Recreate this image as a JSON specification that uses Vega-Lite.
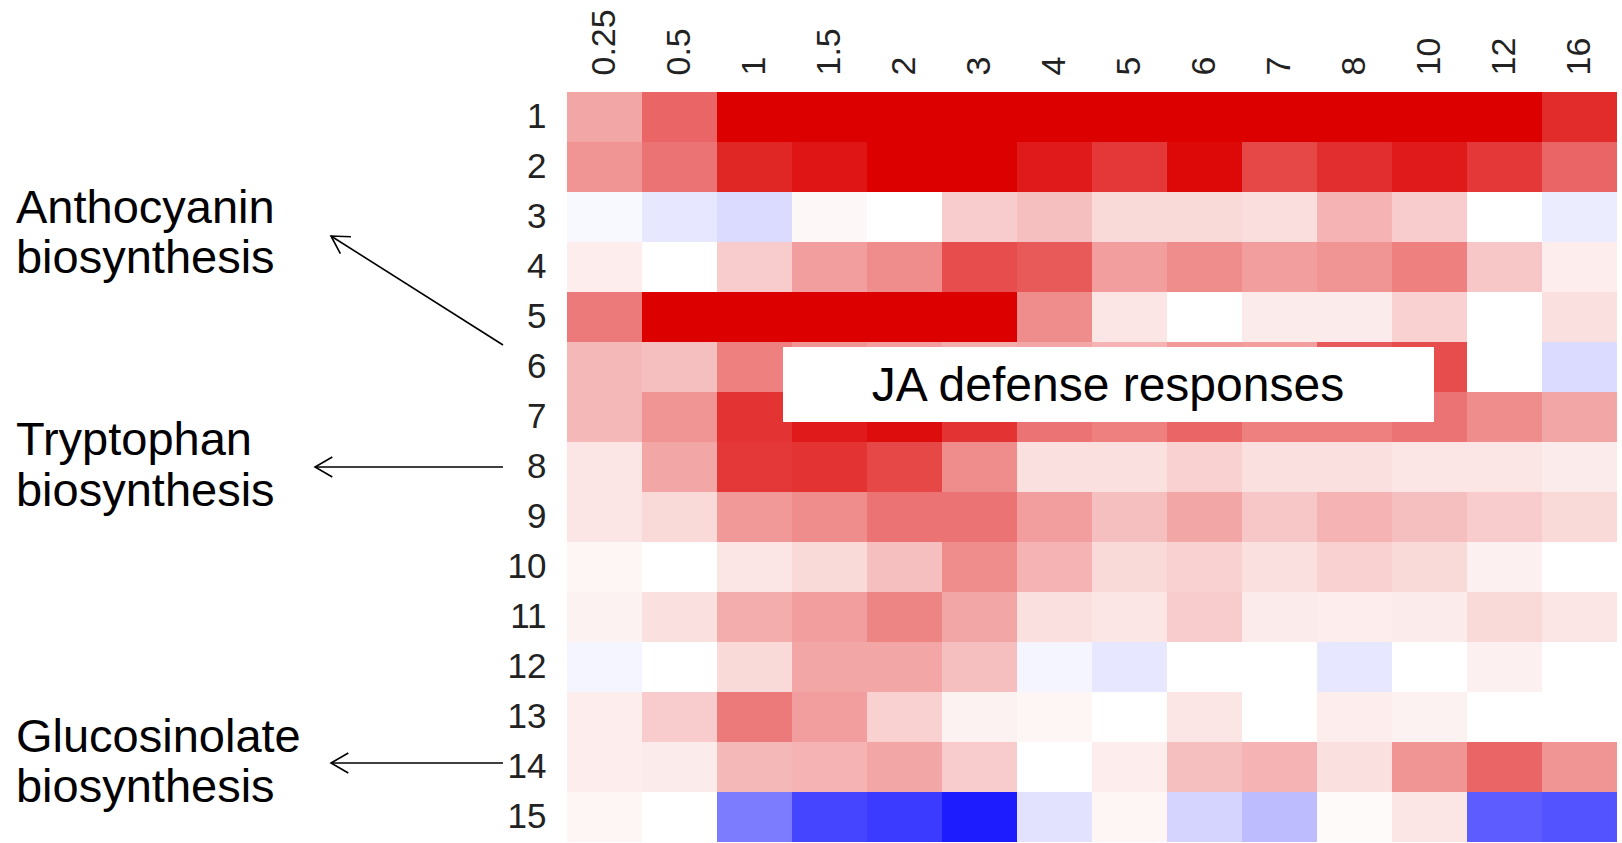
{
  "$schema": "https://vega.github.io/schema/vega-lite/v6.json",
  "width": 1050,
  "height": 750,
  "padding": {"left": 567, "top": 92, "right": 5, "bottom": 1},
  "autosize": {"type": "none"},
  "background": "white",
  "config": {"view": {"stroke": null}},
  "datasets": {
    "cells": [
      {"row":1,"time":"0.25","value":0.35},{"row":1,"time":"0.5","value":0.6},{"row":1,"time":"1","value":1},{"row":1,"time":"1.5","value":1},{"row":1,"time":"2","value":1},{"row":1,"time":"3","value":1},{"row":1,"time":"4","value":1},{"row":1,"time":"5","value":1},{"row":1,"time":"6","value":1},{"row":1,"time":"7","value":1},{"row":1,"time":"8","value":1},{"row":1,"time":"10","value":1},{"row":1,"time":"12","value":1},{"row":1,"time":"16","value":0.83},
      {"row":2,"time":"0.25","value":0.42},{"row":2,"time":"0.5","value":0.55},{"row":2,"time":"1","value":0.85},{"row":2,"time":"1.5","value":0.92},{"row":2,"time":"2","value":1},{"row":2,"time":"3","value":1},{"row":2,"time":"4","value":0.9},{"row":2,"time":"5","value":0.78},{"row":2,"time":"6","value":0.97},{"row":2,"time":"7","value":0.72},{"row":2,"time":"8","value":0.82},{"row":2,"time":"10","value":0.9},{"row":2,"time":"12","value":0.78},{"row":2,"time":"16","value":0.6},
      {"row":3,"time":"0.25","value":-0.03},{"row":3,"time":"0.5","value":-0.1},{"row":3,"time":"1","value":-0.15},{"row":3,"time":"1.5","value":0.03},{"row":3,"time":"2","value":0},{"row":3,"time":"3","value":0.2},{"row":3,"time":"4","value":0.25},{"row":3,"time":"5","value":0.15},{"row":3,"time":"6","value":0.15},{"row":3,"time":"7","value":0.13},{"row":3,"time":"8","value":0.3},{"row":3,"time":"10","value":0.2},{"row":3,"time":"12","value":0},{"row":3,"time":"16","value":-0.08},
      {"row":4,"time":"0.25","value":0.07},{"row":4,"time":"0.5","value":0},{"row":4,"time":"1","value":0.2},{"row":4,"time":"1.5","value":0.38},{"row":4,"time":"2","value":0.45},{"row":4,"time":"3","value":0.7},{"row":4,"time":"4","value":0.65},{"row":4,"time":"5","value":0.38},{"row":4,"time":"6","value":0.45},{"row":4,"time":"7","value":0.38},{"row":4,"time":"8","value":0.42},{"row":4,"time":"10","value":0.5},{"row":4,"time":"12","value":0.22},{"row":4,"time":"16","value":0.07},
      {"row":5,"time":"0.25","value":0.52},{"row":5,"time":"0.5","value":1},{"row":5,"time":"1","value":1},{"row":5,"time":"1.5","value":1},{"row":5,"time":"2","value":1},{"row":5,"time":"3","value":1},{"row":5,"time":"4","value":0.45},{"row":5,"time":"5","value":0.1},{"row":5,"time":"6","value":0},{"row":5,"time":"7","value":0.08},{"row":5,"time":"8","value":0.08},{"row":5,"time":"10","value":0.18},{"row":5,"time":"12","value":0},{"row":5,"time":"16","value":0.12},
      {"row":6,"time":"0.25","value":0.28},{"row":6,"time":"0.5","value":0.25},{"row":6,"time":"1","value":0.5},{"row":6,"time":"1.5","value":0.42},{"row":6,"time":"2","value":0.38},{"row":6,"time":"3","value":0.32},{"row":6,"time":"4","value":0.35},{"row":6,"time":"5","value":0.3},{"row":6,"time":"6","value":0.4},{"row":6,"time":"7","value":0.38},{"row":6,"time":"8","value":0.65},{"row":6,"time":"10","value":0.7},{"row":6,"time":"12","value":0},{"row":6,"time":"16","value":-0.15},
      {"row":7,"time":"0.25","value":0.28},{"row":7,"time":"0.5","value":0.42},{"row":7,"time":"1","value":0.8},{"row":7,"time":"1.5","value":0.9},{"row":7,"time":"2","value":0.95},{"row":7,"time":"3","value":0.8},{"row":7,"time":"4","value":0.55},{"row":7,"time":"5","value":0.5},{"row":7,"time":"6","value":0.6},{"row":7,"time":"7","value":0.5},{"row":7,"time":"8","value":0.5},{"row":7,"time":"10","value":0.55},{"row":7,"time":"12","value":0.45},{"row":7,"time":"16","value":0.35},
      {"row":8,"time":"0.25","value":0.1},{"row":8,"time":"0.5","value":0.35},{"row":8,"time":"1","value":0.78},{"row":8,"time":"1.5","value":0.8},{"row":8,"time":"2","value":0.72},{"row":8,"time":"3","value":0.45},{"row":8,"time":"4","value":0.12},{"row":8,"time":"5","value":0.12},{"row":8,"time":"6","value":0.18},{"row":8,"time":"7","value":0.12},{"row":8,"time":"8","value":0.12},{"row":8,"time":"10","value":0.1},{"row":8,"time":"12","value":0.1},{"row":8,"time":"16","value":0.08},
      {"row":9,"time":"0.25","value":0.1},{"row":9,"time":"0.5","value":0.15},{"row":9,"time":"1","value":0.4},{"row":9,"time":"1.5","value":0.45},{"row":9,"time":"2","value":0.55},{"row":9,"time":"3","value":0.55},{"row":9,"time":"4","value":0.38},{"row":9,"time":"5","value":0.25},{"row":9,"time":"6","value":0.35},{"row":9,"time":"7","value":0.22},{"row":9,"time":"8","value":0.3},{"row":9,"time":"10","value":0.25},{"row":9,"time":"12","value":0.2},{"row":9,"time":"16","value":0.15},
      {"row":10,"time":"0.25","value":0.04},{"row":10,"time":"0.5","value":0},{"row":10,"time":"1","value":0.1},{"row":10,"time":"1.5","value":0.15},{"row":10,"time":"2","value":0.25},{"row":10,"time":"3","value":0.45},{"row":10,"time":"4","value":0.3},{"row":10,"time":"5","value":0.15},{"row":10,"time":"6","value":0.18},{"row":10,"time":"7","value":0.12},{"row":10,"time":"8","value":0.18},{"row":10,"time":"10","value":0.15},{"row":10,"time":"12","value":0.06},{"row":10,"time":"16","value":0},
      {"row":11,"time":"0.25","value":0.05},{"row":11,"time":"0.5","value":0.12},{"row":11,"time":"1","value":0.32},{"row":11,"time":"1.5","value":0.38},{"row":11,"time":"2","value":0.48},{"row":11,"time":"3","value":0.35},{"row":11,"time":"4","value":0.12},{"row":11,"time":"5","value":0.1},{"row":11,"time":"6","value":0.2},{"row":11,"time":"7","value":0.08},{"row":11,"time":"8","value":0.07},{"row":11,"time":"10","value":0.08},{"row":11,"time":"12","value":0.15},{"row":11,"time":"16","value":0.1},
      {"row":12,"time":"0.25","value":-0.04},{"row":12,"time":"0.5","value":0},{"row":12,"time":"1","value":0.15},{"row":12,"time":"1.5","value":0.35},{"row":12,"time":"2","value":0.35},{"row":12,"time":"3","value":0.25},{"row":12,"time":"4","value":-0.04},{"row":12,"time":"5","value":-0.1},{"row":12,"time":"6","value":0},{"row":12,"time":"7","value":0},{"row":12,"time":"8","value":-0.1},{"row":12,"time":"10","value":0},{"row":12,"time":"12","value":0.06},{"row":12,"time":"16","value":0},
      {"row":13,"time":"0.25","value":0.07},{"row":13,"time":"0.5","value":0.2},{"row":13,"time":"1","value":0.52},{"row":13,"time":"1.5","value":0.38},{"row":13,"time":"2","value":0.18},{"row":13,"time":"3","value":0.05},{"row":13,"time":"4","value":0.04},{"row":13,"time":"5","value":0},{"row":13,"time":"6","value":0.1},{"row":13,"time":"7","value":0},{"row":13,"time":"8","value":0.07},{"row":13,"time":"10","value":0.05},{"row":13,"time":"12","value":0},{"row":13,"time":"16","value":0},
      {"row":14,"time":"0.25","value":0.07},{"row":14,"time":"0.5","value":0.08},{"row":14,"time":"1","value":0.28},{"row":14,"time":"1.5","value":0.3},{"row":14,"time":"2","value":0.35},{"row":14,"time":"3","value":0.2},{"row":14,"time":"4","value":0},{"row":14,"time":"5","value":0.07},{"row":14,"time":"6","value":0.25},{"row":14,"time":"7","value":0.3},{"row":14,"time":"8","value":0.12},{"row":14,"time":"10","value":0.42},{"row":14,"time":"12","value":0.6},{"row":14,"time":"16","value":0.42},
      {"row":15,"time":"0.25","value":0.04},{"row":15,"time":"0.5","value":0},{"row":15,"time":"1","value":-0.55},{"row":15,"time":"1.5","value":-0.78},{"row":15,"time":"2","value":-0.82},{"row":15,"time":"3","value":-0.95},{"row":15,"time":"4","value":-0.12},{"row":15,"time":"5","value":0.04},{"row":15,"time":"6","value":-0.18},{"row":15,"time":"7","value":-0.28},{"row":15,"time":"8","value":0.02},{"row":15,"time":"10","value":0.1},{"row":15,"time":"12","value":-0.68},{"row":15,"time":"16","value":-0.72}
    ]
  },
  "layer": [
    {
      "data": {"name": "cells"},
      "mark": {"type": "rect"},
      "encoding": {
        "x": {
          "field": "time", "type": "ordinal",
          "sort": ["0.25","0.5","1","1.5","2","3","4","5","6","7","8","10","12","16"],
          "scale": {"paddingInner": 0, "paddingOuter": 0},
          "axis": {
            "orient": "top", "title": null, "ticks": false, "domain": false,
            "labelAngle": 270, "labelAlign": "left", "labelBaseline": "middle",
            "labelPadding": 17, "labelFont": "Liberation Sans, Arial, sans-serif",
            "labelFontSize": 34, "labelColor": "#222222", "labelOverlap": false, "labelLimit": 0
          }
        },
        "y": {
          "field": "row", "type": "ordinal",
          "scale": {"paddingInner": 0, "paddingOuter": 0},
          "axis": {
            "orient": "left", "title": null, "ticks": false, "domain": false,
            "labelAlign": "right", "labelBaseline": "middle", "labelPadding": 21,
            "labelFont": "Liberation Sans, Arial, sans-serif",
            "labelFontSize": 35, "labelColor": "#222222", "labelOverlap": false, "labelLimit": 0
          }
        },
        "color": {
          "field": "value", "type": "quantitative",
          "scale": {"domain": [-1, 0, 1], "range": ["#1010ff", "#ffffff", "#dc0000"], "interpolate": "rgb"},
          "legend": null
        }
      }
    },
    {
      "data": {"values": [{}]},
      "layer": [
        {
          "mark": {"type": "rect", "fill": "white"},
          "encoding": {
            "x": {"datum": 2.88, "type": "quantitative", "scale": {"domain": [0, 14], "nice": false, "zero": false}, "axis": null},
            "x2": {"datum": 11.56},
            "y": {"datum": 5.1, "type": "quantitative", "scale": {"domain": [0, 15], "nice": false, "zero": false, "reverse": true}, "axis": null},
            "y2": {"datum": 6.6}
          }
        },
        {
          "mark": {"type": "text", "text": "JA defense responses", "align": "center", "baseline": "alphabetic", "font": "Liberation Sans, Arial, sans-serif", "fontSize": 48, "color": "black"},
          "encoding": {
            "x": {"datum": 7.213, "type": "quantitative", "scale": {"domain": [0, 14], "nice": false, "zero": false}, "axis": null},
            "y": {"datum": 6.18, "type": "quantitative", "scale": {"domain": [0, 15], "nice": false, "zero": false, "reverse": true}, "axis": null}
          }
        },
        {
          "mark": {"type": "text", "text": ["Anthocyanin", "biosynthesis"], "align": "left", "baseline": "alphabetic", "font": "Liberation Sans, Arial, sans-serif", "fontSize": 47, "lineHeight": 50, "color": "black"},
          "encoding": {
            "x": {"datum": -7.347, "type": "quantitative", "scale": {"domain": [0, 14], "nice": false, "zero": false}, "axis": null},
            "y": {"datum": 2.62, "type": "quantitative", "scale": {"domain": [0, 15], "nice": false, "zero": false, "reverse": true}, "axis": null}
          }
        },
        {
          "mark": {"type": "text", "text": ["Tryptophan", "biosynthesis"], "align": "left", "baseline": "alphabetic", "font": "Liberation Sans, Arial, sans-serif", "fontSize": 47, "lineHeight": 51, "color": "black"},
          "encoding": {
            "x": {"datum": -7.347, "type": "quantitative", "scale": {"domain": [0, 14], "nice": false, "zero": false}, "axis": null},
            "y": {"datum": 7.26, "type": "quantitative", "scale": {"domain": [0, 15], "nice": false, "zero": false, "reverse": true}, "axis": null}
          }
        },
        {
          "mark": {"type": "text", "text": ["Glucosinolate", "biosynthesis"], "align": "left", "baseline": "alphabetic", "font": "Liberation Sans, Arial, sans-serif", "fontSize": 47, "lineHeight": 50, "color": "black"},
          "encoding": {
            "x": {"datum": -7.347, "type": "quantitative", "scale": {"domain": [0, 14], "nice": false, "zero": false}, "axis": null},
            "y": {"datum": 13.2, "type": "quantitative", "scale": {"domain": [0, 15], "nice": false, "zero": false, "reverse": true}, "axis": null}
          }
        },
        {
          "mark": {"type": "rule", "color": "black", "strokeWidth": 1.6},
          "encoding": {
            "x": {"datum": -0.853, "type": "quantitative", "scale": {"domain": [0, 14], "nice": false, "zero": false}, "axis": null},
            "x2": {"datum": -3.147},
            "y": {"datum": 5.06, "type": "quantitative", "scale": {"domain": [0, 15], "nice": false, "zero": false, "reverse": true}, "axis": null},
            "y2": {"datum": 2.88}
          }
        },
        {
          "mark": {"type": "rule", "color": "black", "strokeWidth": 1.6},
          "encoding": {
            "x": {"datum": -0.853, "type": "quantitative", "scale": {"domain": [0, 14], "nice": false, "zero": false}, "axis": null},
            "x2": {"datum": -3.36},
            "y": {"datum": 7.5, "type": "quantitative", "scale": {"domain": [0, 15], "nice": false, "zero": false, "reverse": true}, "axis": null},
            "y2": {"datum": 7.5}
          }
        },
        {
          "mark": {"type": "rule", "color": "black", "strokeWidth": 1.6},
          "encoding": {
            "x": {"datum": -0.853, "type": "quantitative", "scale": {"domain": [0, 14], "nice": false, "zero": false}, "axis": null},
            "x2": {"datum": -3.147},
            "y": {"datum": 13.42, "type": "quantitative", "scale": {"domain": [0, 15], "nice": false, "zero": false, "reverse": true}, "axis": null},
            "y2": {"datum": 13.42}
          }
        },
        {
          "mark": {"type": "point", "shape": "M-1,-0.577L0,0L-1,0.577", "filled": false, "stroke": "black", "strokeWidth": 1.6, "size": 1200, "angle": 212, "opacity": 1},
          "encoding": {
            "x": {"datum": -3.147, "type": "quantitative", "scale": {"domain": [0, 14], "nice": false, "zero": false}, "axis": null},
            "y": {"datum": 2.88, "type": "quantitative", "scale": {"domain": [0, 15], "nice": false, "zero": false, "reverse": true}, "axis": null}
          }
        },
        {
          "mark": {"type": "point", "shape": "M-1,-0.577L0,0L-1,0.577", "filled": false, "stroke": "black", "strokeWidth": 1.6, "size": 1200, "angle": 180, "opacity": 1},
          "encoding": {
            "x": {"datum": -3.36, "type": "quantitative", "scale": {"domain": [0, 14], "nice": false, "zero": false}, "axis": null},
            "y": {"datum": 7.5, "type": "quantitative", "scale": {"domain": [0, 15], "nice": false, "zero": false, "reverse": true}, "axis": null}
          }
        },
        {
          "mark": {"type": "point", "shape": "M-1,-0.577L0,0L-1,0.577", "filled": false, "stroke": "black", "strokeWidth": 1.6, "size": 1200, "angle": 180, "opacity": 1},
          "encoding": {
            "x": {"datum": -3.147, "type": "quantitative", "scale": {"domain": [0, 14], "nice": false, "zero": false}, "axis": null},
            "y": {"datum": 13.42, "type": "quantitative", "scale": {"domain": [0, 15], "nice": false, "zero": false, "reverse": true}, "axis": null}
          }
        }
      ]
    }
  ],
  "resolve": {"scale": {"x": "independent", "y": "independent"}}
}
